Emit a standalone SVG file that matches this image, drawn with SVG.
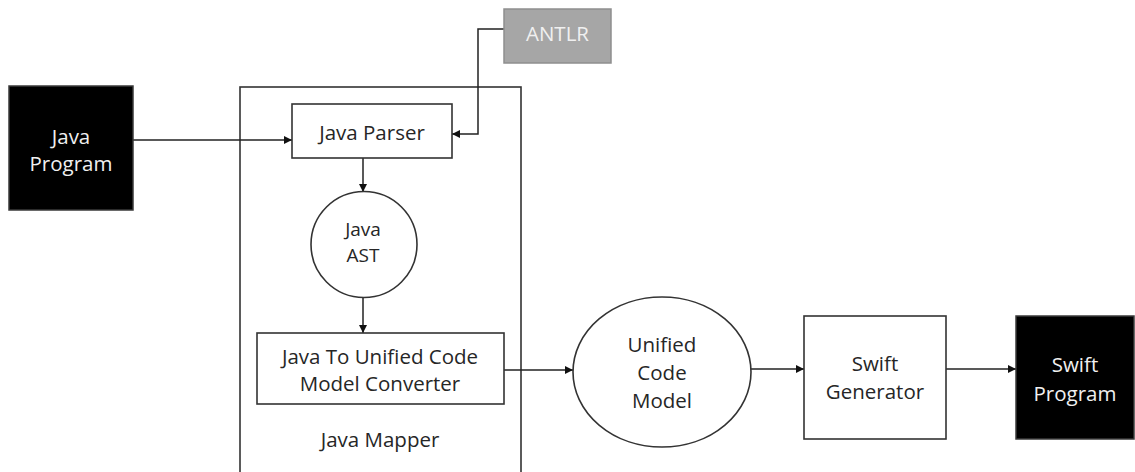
<svg xmlns="http://www.w3.org/2000/svg" width="1135" height="472" viewBox="0 0 1135 472">
<defs>
<style>
text{font-family:"Open Sans","Liberation Sans",sans-serif;font-size:20.5px;text-anchor:middle;fill:#262626}
.dark{fill:#000;stroke:#3a3a3a;stroke-width:1.5}
.light{fill:#fff;stroke:#333;stroke-width:1.6}
.inv{fill:#f0f0f0}
.sm{font-size:19px}
.conn{fill:none;stroke:#222;stroke-width:1.5;marker-end:url(#arr)}
</style>
<marker id="arr" viewBox="0 0 10 10" refX="10" refY="5" markerWidth="8" markerHeight="8" markerUnits="userSpaceOnUse" orient="auto">
<path d="M0,0 L10,5 L0,10 z" fill="#111"/>
</marker>
</defs>
<rect width="1135" height="472" fill="#fff"/>
<g id="mapper">
<rect class="light" x="240" y="87" width="281" height="420" fill="none"/>
<text x="380" y="447">Java Mapper</text>
</g>
<g id="connectors">
<path class="conn" d="M133,140 H292"/>
<path class="conn" d="M504,29 H478 V134 H452"/>
<path class="conn" d="M363,158 V192"/>
<path class="conn" d="M363,297 V333"/>
<path class="conn" d="M504,370 H573"/>
<path class="conn" d="M751,369 H804"/>
<path class="conn" d="M946,369 H1016"/>
</g>
<g id="java-program">
<rect class="dark" x="9" y="86" width="124" height="124"/>
<text class="inv" x="71" y="144">Java</text>
<text class="inv" x="71" y="171">Program</text>
</g>
<g id="antlr">
<rect x="504" y="9" width="107" height="54" fill="#a6a6a6" stroke="#8e8e8e" stroke-width="1.5"/>
<text class="inv" x="557.5" y="41">ANTLR</text>
</g>
<g id="java-parser">
<rect class="light" x="292" y="104" width="160" height="54"/>
<text x="372" y="140">Java Parser</text>
</g>
<g id="java-ast">
<circle class="light" cx="364" cy="244.5" r="53"/>
<text class="sm" x="363" y="236">Java</text>
<text class="sm" x="363" y="262">AST</text>
</g>
<g id="converter">
<rect class="light" x="257" y="333" width="247" height="71"/>
<text x="380" y="364">Java To Unified Code</text>
<text x="380" y="391">Model Converter</text>
</g>
<g id="unified-code-model">
<ellipse class="light" cx="662" cy="372" rx="89" ry="75"/>
<text x="662" y="352">Unified</text>
<text x="662" y="380">Code</text>
<text x="662" y="408">Model</text>
</g>
<g id="swift-generator">
<rect class="light" x="804" y="316" width="142" height="123"/>
<text x="875" y="371">Swift</text>
<text x="875" y="399">Generator</text>
</g>
<g id="swift-program">
<rect class="dark" x="1016" y="316" width="118" height="123"/>
<text class="inv" x="1075" y="372">Swift</text>
<text class="inv" x="1075" y="401">Program</text>
</g>
</svg>
